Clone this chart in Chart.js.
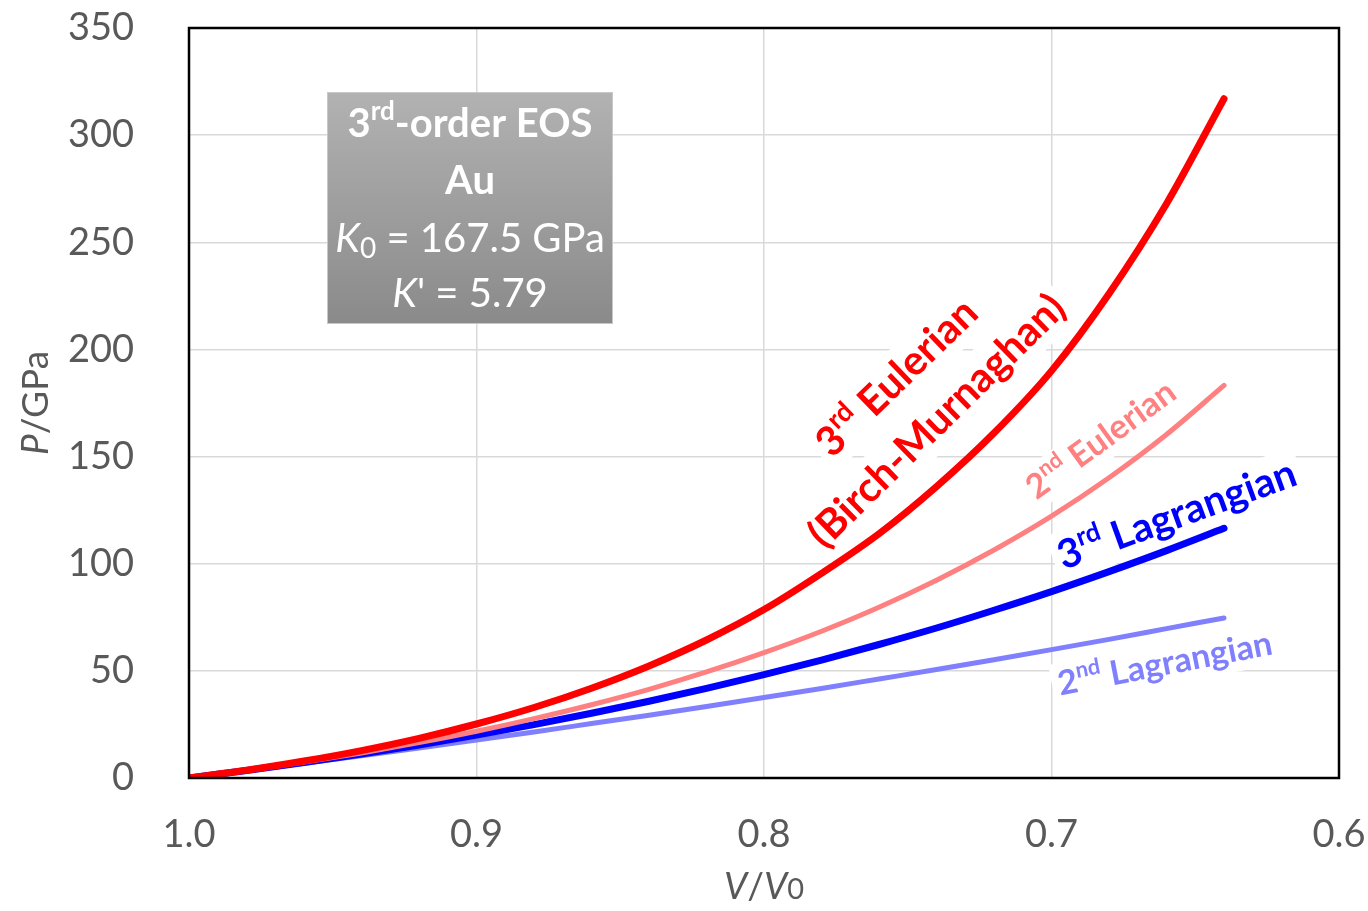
<!DOCTYPE html>
<html>
<head>
<meta charset="utf-8">
<script src="https://cdn.jsdelivr.net/npm/chart.js@4"></script>
<style>
  html, body { margin: 0; padding: 0; background: #fff; }
  #wrap { width: 1368px; height: 911px; }
</style>
</head>
<body>
<div id="wrap"><canvas id="eos"></canvas></div>
<script>
const volume = [1.00, 0.98, 0.96, 0.94, 0.92, 0.90, 0.88, 0.86, 0.84, 0.82, 0.80, 0.78, 0.76, 0.74, 0.72, 0.70, 0.68, 0.66, 0.64];

// pressures in GPa
const euler3 = [0, 3.6, 7.9, 12.8, 18.5, 25.2, 32.9, 41.9, 52.3, 64.4, 78.6, 95.5, 114, 136, 161, 190, 226, 268, 317];
const euler2 = [0, 3.5, 7.4, 11.7, 16.5, 21.8, 27.7, 34.2, 41.4, 49.5, 58.5, 68.5, 79.7, 92.3, 106.4, 122.2, 140.1, 160.3, 183.2];
const lagrange3 = [0, 3.5, 7.2, 11.2, 15.4, 20.0, 24.9, 30.2, 35.8, 41.8, 48.2, 55.0, 62.3, 70.0, 78.3, 87.0, 96.3, 106.1, 116.5];
const lagrange2 = [0, 3.4, 6.9, 10.4, 14.0, 17.7, 21.5, 25.4, 29.3, 33.4, 37.6, 41.8, 46.2, 50.6, 55.2, 59.9, 64.7, 69.7, 74.7];

const xTicks = [1.0, 0.9, 0.8, 0.7, 0.6];
const yTicks = [0, 50, 100, 150, 200, 250, 300, 350];

const FONT = 'Lato, "Open Sans", sans-serif';

function pts(ys) {
    return volume.map(function(v, i) { return { x: v, y: ys[i] }; });
}

function richWidth(ctx, parts) {
    let w = 0;
    parts.forEach(function(p) { ctx.font = p.f; w += ctx.measureText(p.t).width; });
    return w;
}

// draws a run of differently styled pieces centred on x
function drawRich(ctx, parts, x, y) {
    let cx = x - richWidth(ctx, parts) / 2;
    ctx.textAlign = 'left';
    ctx.textBaseline = 'middle';
    parts.forEach(function(p) {
        ctx.font = p.f;
        ctx.fillText(p.t, cx, y + (p.dy || 0));
        cx += ctx.measureText(p.t).width;
    });
}

function ordinalParts(num, sup, rest, size) {
    return [
        { t: num, f: 'bold ' + size + 'px ' + FONT },
        { t: sup, f: 'bold ' + Math.round(size * 0.66) + 'px ' + FONT, dy: -size * 0.3 },
        { t: rest, f: 'bold ' + size + 'px ' + FONT }
    ];
}

// keep chart.js from adding room for the edge tick labels
function noPad(scale) {
    scale.paddingTop = 0;
    scale.paddingBottom = 0;
    scale.paddingLeft = 0;
    scale.paddingRight = 0;
}

// rotated labels next to the curves
const curveLabels = [
    { parts: ordinalParts('3', 'rd', ' Eulerian', 41), size: 41, x: 897, y: 378, ang: -44, color: '#ff0000' },
    { parts: [{ t: '(Birch-Murnaghan)', f: 'bold 41px ' + FONT }], size: 41, x: 937, y: 421, ang: -44.5, color: '#ff0000' },
    { parts: ordinalParts('2', 'nd', ' Eulerian', 34), size: 34, x: 1101, y: 440, ang: -36, color: '#ff8080' },
    { parts: ordinalParts('3', 'rd', ' Lagrangian', 40), size: 40, x: 1177, y: 515, ang: -20, color: '#0000ff' },
    { parts: ordinalParts('2', 'nd', ' Lagrangian', 34), size: 34, x: 1165, y: 664, ang: -11, color: '#8080ff' }
];

const decorations = {
    id: 'decorations',
    beforeDatasetsDraw: function(chart) {
        // white label boxes hide the gridlines behind the text
        const ctx = chart.ctx;
        ctx.save();
        ctx.fillStyle = '#ffffff';
        curveLabels.forEach(function(l) {
            const w = richWidth(ctx, l.parts) + 12;
            const h = l.size * 1.25;
            ctx.save();
            ctx.translate(l.x, l.y);
            ctx.rotate(l.ang * Math.PI / 180);
            ctx.fillRect(-w / 2, -h / 2, w, h);
            ctx.restore();
        });
        ctx.restore();
    },
    afterDraw: function(chart) {
        const ctx = chart.ctx;
        const a = chart.chartArea;
        ctx.save();

        // frame around plot area
        ctx.strokeStyle = '#000';
        ctx.lineWidth = 2.5;
        ctx.strokeRect(a.left, a.top, a.right - a.left, a.bottom - a.top);

        // axis titles
        ctx.fillStyle = '#595959';
        drawRich(ctx, [
            { t: 'V', f: 'italic 37px ' + FONT },
            { t: '/', f: '37px ' + FONT },
            { t: 'V', f: 'italic 37px ' + FONT },
            { t: '0', f: '29px ' + FONT, dy: 3 }
        ], (a.left + a.right) / 2, 887);

        ctx.save();
        ctx.translate(36, (a.top + a.bottom) / 2);
        ctx.rotate(-Math.PI / 2);
        drawRich(ctx, [
            { t: 'P', f: 'italic 37px ' + FONT },
            { t: '/GPa', f: '37px ' + FONT }
        ], 0, 0);
        ctx.restore();

        // info box
        const bx = 327, by = 92, bw = 286, bh = 232;
        const grad = ctx.createLinearGradient(0, by, 0, by + bh);
        grad.addColorStop(0, '#b2b2b2');
        grad.addColorStop(1, '#8a8a8a');
        ctx.fillStyle = grad;
        ctx.fillRect(bx, by, bw, bh);
        ctx.strokeStyle = '#c8c8c8';
        ctx.lineWidth = 1;
        ctx.strokeRect(bx + 0.5, by + 0.5, bw - 1, bh - 1);

        ctx.fillStyle = '#ffffff';
        const cx = bx + bw / 2;
        drawRich(ctx, ordinalParts('3', 'rd', '-order EOS', 40), cx, 124);
        drawRich(ctx, [{ t: 'Au', f: 'bold 40px ' + FONT }], cx, 181);
        drawRich(ctx, [
            { t: 'K', f: 'italic 40px ' + FONT },
            { t: '0', f: '28px ' + FONT, dy: 10 },
            { t: ' = 167.5 GPa', f: '40px ' + FONT }
        ], cx, 239);
        drawRich(ctx, [
            { t: 'K', f: 'italic 40px ' + FONT },
            { t: "' = 5.79", f: '40px ' + FONT }
        ], cx, 294);

        curveLabels.forEach(function(l) {
            ctx.save();
            ctx.translate(l.x, l.y);
            ctx.rotate(l.ang * Math.PI / 180);
            ctx.fillStyle = l.color;
            drawRich(ctx, l.parts, 0, 0);
            ctx.restore();
        });

        ctx.restore();
    }
};

const ctx = document.getElementById('eos').getContext('2d');
new Chart(ctx, {
    type: 'scatter',
    data: {
        datasets: [
            { label: '3rd Eulerian', data: pts(euler3), borderColor: '#ff0000', borderWidth: 7 },
            { label: '2nd Eulerian', data: pts(euler2), borderColor: '#ff8080', borderWidth: 5 },
            { label: '3rd Lagrangian', data: pts(lagrange3), borderColor: '#0000ff', borderWidth: 7 },
            { label: '2nd Lagrangian', data: pts(lagrange2), borderColor: '#8080ff', borderWidth: 5 }
        ].map(function(d) {
            d.showLine = true;
            d.pointRadius = 0;
            d.pointHoverRadius = 0;
            d.cubicInterpolationMode = 'monotone';
            d.borderCapStyle = 'round';
            d.fill = false;
            return d;
        })
    },
    options: {
        responsive: true,
        maintainAspectRatio: false,
        animation: false,
        layout: { padding: { top: 28, right: 29, left: 0, bottom: 0 } },
        plugins: {
            legend: { display: false },
            tooltip: { enabled: false }
        },
        scales: {
            x: {
                type: 'linear',
                reverse: true,
                min: 0.6,
                max: 1.0,
                afterBuildTicks: function(scale) {
                    scale.ticks = xTicks.map(function(v) { return { value: v }; });
                },
                afterFit: function(scale) { scale.height = 133; noPad(scale); },
                ticks: {
                    padding: 34,
                    color: '#595959',
                    font: { family: FONT, size: 38 },
                    maxRotation: 0,
                    callback: function(v) { return Number(v).toFixed(1); }
                },
                grid: { color: '#d9d9d9', lineWidth: 1.5, drawTicks: false },
                border: { display: false }
            },
            y: {
                min: 0,
                max: 350,
                afterBuildTicks: function(scale) {
                    scale.ticks = yTicks.map(function(v) { return { value: v }; });
                },
                afterFit: function(scale) { scale.width = 189; noPad(scale); },
                ticks: {
                    padding: 55,
                    color: '#595959',
                    font: { family: FONT, size: 38 }
                },
                grid: { color: '#d9d9d9', lineWidth: 1.5, drawTicks: false },
                border: { display: false }
            }
        }
    },
    plugins: [decorations]
});
</script>
</body>
</html>
